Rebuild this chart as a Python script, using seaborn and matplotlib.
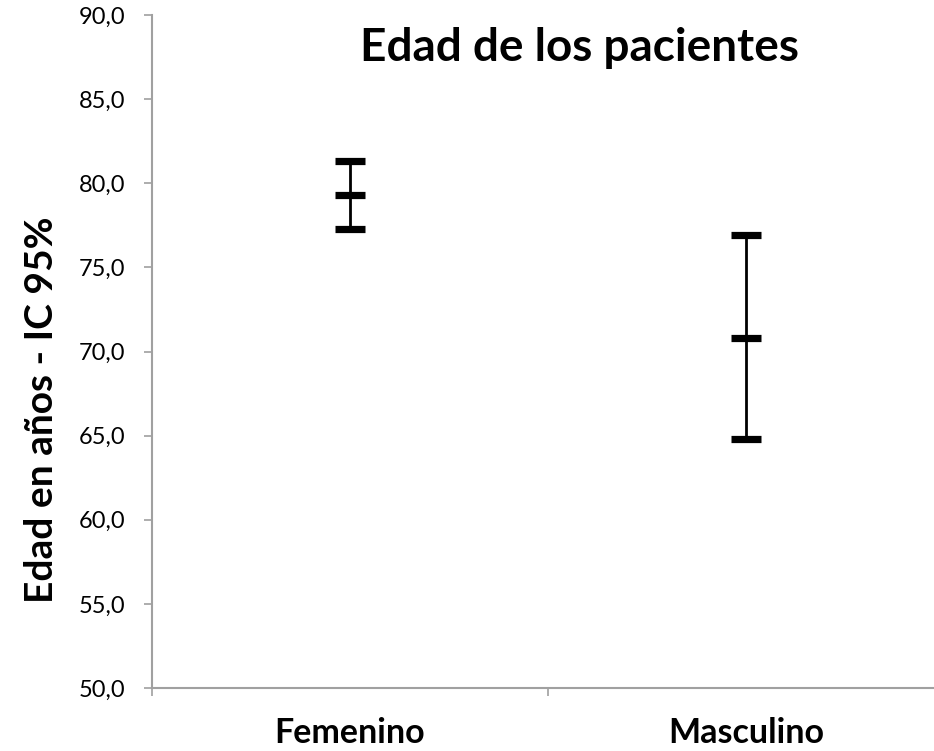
import matplotlib
matplotlib.use("Agg")
import matplotlib.pyplot as plt
import seaborn as sns
import pandas as pd
from matplotlib.ticker import FuncFormatter, FixedLocator

categorias = ["Femenino", "Masculino"]
ic_inferior = [77.3, 64.8]
media = [79.3, 70.8]
ic_superior = [81.3, 76.9]
y_ticks = [50, 55, 60, 65, 70, 75, 80, 85, 90]

sns.set_theme(style="white")
plt.rcParams['font.family'] = ['Lato', 'DejaVu Sans']
plt.rcParams['text.color'] = 'black'
plt.rcParams['xtick.labelcolor'] = 'black'
plt.rcParams['ytick.labelcolor'] = 'black'
plt.rcParams['axes.labelcolor'] = 'black'

rows = []
for c, lo, m, hi in zip(categorias, ic_inferior, media, ic_superior):
    rows += [(c, "inf", lo), (c, "media", m), (c, "sup", hi)]
df = pd.DataFrame(rows, columns=["sexo", "stat", "edad"])

fig = plt.figure(figsize=(9.34, 7.51), dpi=100)
W, H = 934, 751
ax = fig.add_axes([152 / W, (H - 688) / H, (944 - 152) / W, (688 - 15) / H])

# vertical CI lines
sns.lineplot(data=df, x="sexo", y="edad", units="sexo", estimator=None,
             color="black", linewidth=2, ax=ax, sort=False)
# caps and mean marks
sns.scatterplot(data=df, x="sexo", y="edad", marker="_", s=440,
                linewidth=5.2, color="black", ax=ax, zorder=3)

ax.set_xlim(-0.5, 1.5)
ax.set_ylim(50, 90)
ax.yaxis.set_major_locator(FixedLocator(y_ticks))
ax.yaxis.set_major_formatter(FuncFormatter(lambda v, p: f"{v:.1f}".replace(".", ",")))

ax.set_xticks([-0.5, 0.5, 1.5])
ax.set_xticklabels([])
ax.set_xticks([0, 1], minor=True)
ax.set_xticklabels(categorias, minor=True, fontsize=24.5, fontweight="bold")
ax.tick_params(axis="x", which="minor", length=0, pad=21)
ax.tick_params(axis="x", which="major", length=6, width=1.2, color="#A0A0A0", direction="out", bottom=True)
ax.tick_params(axis="y", length=6, width=1.2, color="#A0A0A0", direction="out", left=True,
               labelsize=17, pad=13)

for s in ["top", "right"]:
    ax.spines[s].set_visible(False)
for s in ["left", "bottom"]:
    ax.spines[s].set_color("#A0A0A0")
    ax.spines[s].set_linewidth(1.5)

ax.set_xlabel("")
ax.set_ylabel("Edad en años - IC 95%", fontsize=28, fontweight="bold")
ax.yaxis.set_label_coords(-(152 - 59) / (944 - 152), (688 - 410) / (688 - 15))

fig.text(580 / W, 1 - 48 / H, "Edad de los pacientes", ha="center", va="center",
         fontsize=33, fontweight="bold")

fig.savefig("out.png", dpi=100)
